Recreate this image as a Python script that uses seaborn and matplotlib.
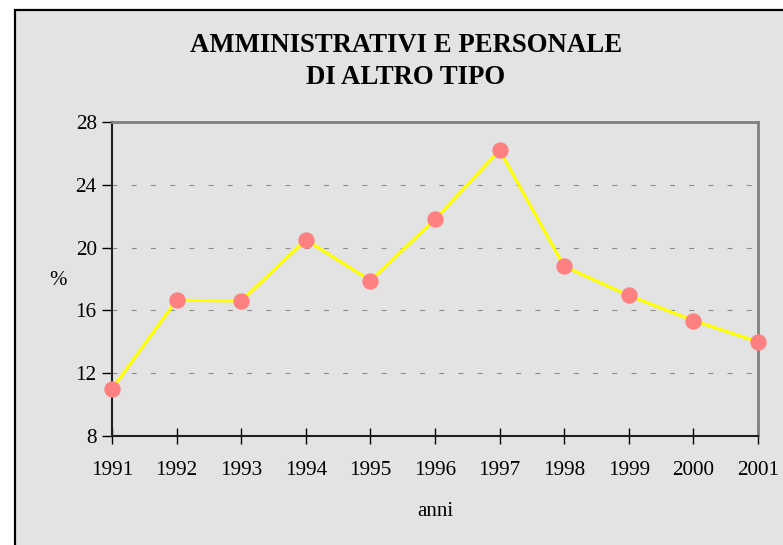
import matplotlib
matplotlib.use('Agg')
import matplotlib.pyplot as plt
import seaborn as sns
import pandas as pd
from matplotlib.patches import Rectangle

# dati
anni = [1991, 1992, 1993, 1994, 1995, 1996, 1997, 1998, 1999, 2000, 2001]
percentuale = [11.0, 16.65, 16.6, 20.5, 17.9, 21.8, 26.2, 18.8, 16.95, 15.35, 14.0]
y_ticks = [8, 12, 16, 20, 24, 28]

df = pd.DataFrame({'anni': anni, 'perc': percentuale})

sns.set_style('white')
plt.rcParams['font.family'] = ['Liberation Serif', 'DejaVu Serif']
plt.rcParams['text.color'] = 'black'
plt.rcParams['axes.labelcolor'] = 'black'
plt.rcParams['xtick.color'] = 'black'
plt.rcParams['ytick.color'] = 'black'

grigio = '#e3e3e3'
fig = plt.figure(figsize=(7.83, 5.45), dpi=100)
fig.patch.set_facecolor('white')

# riquadro grigio del grafico
fig.patches.append(Rectangle((15 / 783, -0.05), 1.0, 1.05 - 10 / 545,
                             transform=fig.transFigure, facecolor=grigio,
                             edgecolor='black', linewidth=1.6, zorder=-10))

ax = fig.add_axes([112 / 783, 0.2, 646 / 783, 314 / 545])
ax.set_facecolor(grigio)

# griglia tratteggiata
for v in y_ticks[1:-1]:
    ax.axhline(v, color='#8c8c8c', linewidth=0.8, dashes=(4.5, 12.8), zorder=1)

sns.lineplot(data=df, x='anni', y='perc', ax=ax, color='#ffff00', linewidth=2.2,
             marker='o', markersize=11, markerfacecolor='#ff8080',
             markeredgecolor='#ff8080', clip_on=False, zorder=3)

ax.set_xlim(1991, 2001)
ax.set_ylim(8, 28)
ax.set_xticks(anni)
ax.set_yticks(y_ticks)
ax.tick_params(axis='x', direction='inout', length=12, width=1, color='black',
               labelsize=15.3, pad=12)
ax.tick_params(axis='y', direction='out', length=7, width=1, color='black',
               labelsize=15.3, pad=4)
ax.tick_params(left=True, bottom=True)

for lato in ['left', 'bottom']:
    ax.spines[lato].set_color('#202020')
    ax.spines[lato].set_linewidth(1.5)
for lato in ['top', 'right']:
    ax.spines[lato].set_color('#808080')
    ax.spines[lato].set_linewidth(2)

ax.set_xlabel('anni', fontsize=15, labelpad=16)
ax.set_ylabel('%', fontsize=15, rotation=0, va='center', ha='center')
ax.yaxis.set_label_coords(-0.083, 0.495)

fig.text(0.5185, 1 - 45 / 545, 'AMMINISTRATIVI E PERSONALE', ha='center', va='center',
         fontsize=19.3, fontweight='bold')
fig.text(0.5185, 1 - 78 / 545, 'DI ALTRO TIPO', ha='center', va='center',
         fontsize=19.3, fontweight='bold')

fig.savefig('out.png', dpi=100)
